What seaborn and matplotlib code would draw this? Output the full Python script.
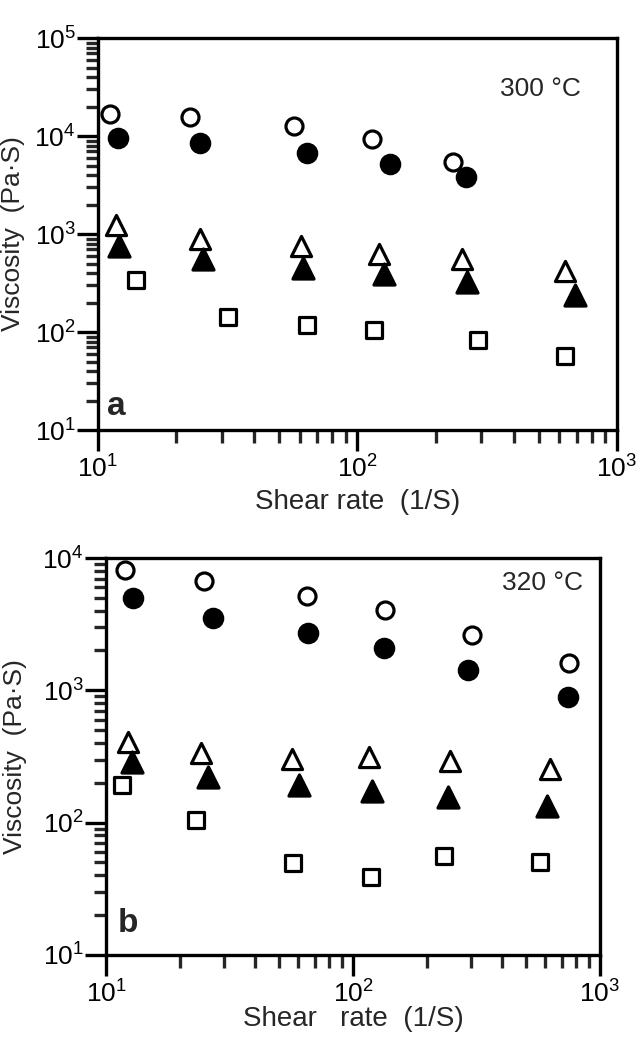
"""Viscosity vs shear rate at 300 and 320 C, two log-log panels."""
import matplotlib.pyplot as plt
import matplotlib.ticker as mticker
import pandas as pd
import seaborn as sns

sns.set_theme(style="white")
FONT = ["Liberation Sans", "DejaVu Sans"]
plt.rcParams["font.family"] = FONT
plt.rcParams["mathtext.fontset"] = "custom"
plt.rcParams["mathtext.rm"] = "Liberation Sans"
plt.rcParams["mathtext.it"] = "Liberation Sans"

# --- panel a, 300 C ---
a_open_circle_x = [11.1, 22.6, 56.8, 113.5, 233]
a_open_circle_y = [16900, 15600, 12600, 9230, 5450]
a_filled_circle_x = [11.9, 24.8, 63.8, 133.6, 262]
a_filled_circle_y = [9660, 8400, 6760, 5200, 3820]
a_open_tri_x = [11.7, 24.8, 60.4, 121, 252, 632]
a_open_tri_y = [1233, 891, 752, 628, 551, 417]
a_filled_tri_x = [12.1, 25.3, 61.7, 126, 265, 687]
a_filled_tri_y = [762, 560, 451, 395, 321, 239]
a_square_x = [14.0, 31.7, 63.8, 116, 292, 628]
a_square_y = [338, 141, 119, 106, 82, 57]

# --- panel b, 320 C ---
b_open_circle_x = [11.9, 24.9, 64.9, 135, 303, 751]
b_open_circle_y = [8050, 6650, 5130, 4020, 2630, 1610]
b_filled_circle_x = [12.9, 27.0, 65.9, 133, 292, 745]
b_filled_circle_y = [4980, 3520, 2710, 2090, 1413, 883]
b_open_tri_x = [12.3, 24.2, 56.5, 116, 248, 628]
b_open_tri_y = [410, 335, 303, 313, 290, 254]
b_filled_tri_x = [12.7, 25.9, 60.5, 119, 242, 610]
b_filled_tri_y = [285, 223, 193, 172, 156, 134]
b_square_x = [11.6, 23.2, 57.1, 118, 234, 569]
b_square_y = [193, 105, 49.3, 38.6, 55.5, 50.8]

STYLES = {
    "open_circle": dict(marker="o", facecolor="white", s=150),
    "filled_circle": dict(marker="o", facecolor="black", s=175),
    "open_tri": dict(marker="^", facecolor="white", s=210),
    "filled_tri": dict(marker="^", facecolor="black", s=230),
    "square": dict(marker="s", facecolor="white", s=130),
}


def frame(xs_ys):
    rows = []
    for name, (xs, ys) in xs_ys.items():
        rows += [{"series": name, "rate": x, "visc": y} for x, y in zip(xs, ys)]
    return pd.DataFrame(rows)


panel_a = frame({
    "open_circle": (a_open_circle_x, a_open_circle_y),
    "filled_circle": (a_filled_circle_x, a_filled_circle_y),
    "open_tri": (a_open_tri_x, a_open_tri_y),
    "filled_tri": (a_filled_tri_x, a_filled_tri_y),
    "square": (a_square_x, a_square_y),
})
panel_b = frame({
    "open_circle": (b_open_circle_x, b_open_circle_y),
    "filled_circle": (b_filled_circle_x, b_filled_circle_y),
    "open_tri": (b_open_tri_x, b_open_tri_y),
    "filled_tri": (b_filled_tri_x, b_filled_tri_y),
    "square": (b_square_x, b_square_y),
})

fig = plt.figure(figsize=(6.42, 10.37), dpi=100)
ax_a = fig.add_axes([0.1526, 0.5853, 0.8084, 0.378])
ax_b = fig.add_axes([0.1651, 0.0791, 0.7695, 0.3828])


def draw(ax, df, ylim, temp, temp_x, temp_y, letter, letter_x, letter_y,
         xlabel, xpad, ylab_x):
    for name, st in STYLES.items():
        sub = df[df.series == name]
        sns.scatterplot(data=sub, x="rate", y="visc", ax=ax, marker=st["marker"],
                        s=st["s"], facecolor=st["facecolor"], edgecolor="black",
                        linewidth=2.3, legend=False, zorder=3)
    ax.set_xscale("log")
    ax.set_yscale("log")
    ax.set_xlim(10, 1000)
    ax.set_ylim(*ylim)
    ax.xaxis.set_minor_formatter(mticker.NullFormatter())
    ax.yaxis.set_minor_formatter(mticker.NullFormatter())
    ax.yaxis.set_minor_locator(mticker.LogLocator(base=10, subs=range(2, 10), numticks=20))
    ax.xaxis.set_minor_locator(mticker.LogLocator(base=10, subs=range(2, 10), numticks=20))
    for sp in ax.spines.values():
        sp.set_linewidth(2.4)
        sp.set_color("black")
    ax.tick_params(which="major", direction="out", length=15, width=2.4,
                   labelsize=19, colors="black", bottom=True, left=True,
                   top=False, right=False, pad=3)
    ax.tick_params(axis="y", which="major", pad=1)
    ax.tick_params(which="minor", direction="out", length=9, width=2.4,
                   bottom=True, left=True, top=False, right=False)
    ax.set_xlabel(xlabel, fontsize=20, labelpad=xpad)
    ax.set_ylabel("Viscosity  (Pa·S)", fontsize=19)
    ax.yaxis.set_label_coords(ylab_x, 0.5)
    ax.text(temp_x, temp_y, temp, transform=ax.transAxes, ha="right", va="center",
            fontsize=19)
    ax.text(letter_x, letter_y, letter, transform=ax.transAxes, ha="center",
            va="center", fontsize=24, fontweight="bold")


draw(ax_a, panel_a, (10, 1e5), "300 °C", 0.93, 0.87, "a", 0.035, 0.06,
     "Shear rate  (1/S)", 5, -0.14)
draw(ax_b, panel_b, (10, 1e4), "320 °C", 0.965, 0.937, "b", 0.045, 0.08,
     "Shear   rate  (1/S)", -1, -0.16)

fig.savefig("out.png", dpi=100)
